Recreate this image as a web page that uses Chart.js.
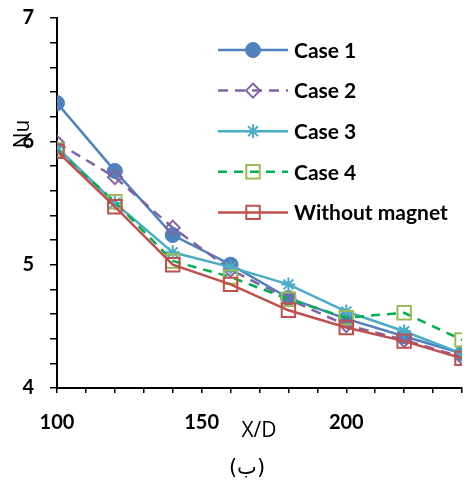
<!DOCTYPE html>
<html lang="fa">
<head>
<meta charset="UTF-8" />
<title>Nu vs X/D</title>
<script src="https://cdn.jsdelivr.net/npm/chart.js"></script>
<style>
body { margin: 0; background: #fff; }
.grafica { width: 464px; height: 481px; }
</style>
</head>
<body>
<div class="grafica">
<canvas id="myChart"></canvas>
</div>
<script>
const xValues = [100, 120, 140, 160, 180, 200, 220, 240];
const case1 = [6.31, 5.76, 5.24, 5.00, 4.73, 4.56, 4.42, 4.28];
const case2 = [5.99, 5.71, 5.30, 4.96, 4.72, 4.51, 4.39, 4.25];
const case3 = [5.95, 5.50, 5.10, 4.98, 4.84, 4.62, 4.46, 4.28];
const case4 = [5.93, 5.51, 5.03, 4.90, 4.72, 4.57, 4.61, 4.39];
const withoutMagnet = [5.92, 5.47, 5.00, 4.84, 4.63, 4.49, 4.38, 4.24];
const seriesNames = ["Case 1", "Case 2", "Case 3", "Case 4", "Without magnet"];
const xLabels = [100, 150, 200];
const yLabels = [4, 5, 6, 7];

function pts(values) {
  return values.map((v, i) => ({ x: xValues[i], y: v }));
}

const datasets = [
  {
    label: seriesNames[0], data: pts(case1), order: 5,
    borderColor: "#4F81BD", borderWidth: 2.5,
    pointStyle: "circle", pointRadius: 7.5,
    pointBackgroundColor: "#4F81BD", pointBorderColor: "#4F81BD", pointBorderWidth: 1
  },
  {
    label: seriesNames[1], data: pts(case2), order: 4,
    borderColor: "#8064A2", borderWidth: 2.5, borderDash: [10, 7],
    pointStyle: "rectRot", pointRadius: 7,
    pointBackgroundColor: "rgba(255,255,255,0)", pointBorderColor: "#8064A2", pointBorderWidth: 2
  },
  {
    label: seriesNames[2], data: pts(case3), order: 3,
    borderColor: "#4BACC6", borderWidth: 2.5,
    pointStyle: "star", pointRadius: 7,
    pointBackgroundColor: "#4BACC6", pointBorderColor: "#4BACC6", pointBorderWidth: 2
  },
  {
    label: seriesNames[3], data: pts(case4), order: 2,
    borderColor: "#00B050", borderWidth: 2.5, borderDash: [9, 7],
    pointStyle: "rect", pointRadius: 9.5,
    pointBackgroundColor: "rgba(255,255,255,0)", pointBorderColor: "#9BBB59", pointBorderWidth: 2
  },
  {
    label: seriesNames[4], data: pts(withoutMagnet), order: 1,
    borderColor: "#C0504D", borderWidth: 2.5,
    pointStyle: "rect", pointRadius: 9.5,
    pointBackgroundColor: "rgba(255,255,255,0)", pointBorderColor: "#C0504D", pointBorderWidth: 2
  }
];

// legend + axis titles + caption drawn by hand
const extras = {
  id: "extras",
  afterDraw(chart) {
    const ctx = chart.ctx;
    ctx.save();
    datasets.forEach((ds, i) => {
      const y = 50 + i * 40.6;
      ctx.strokeStyle = ds.borderColor;
      ctx.lineWidth = ds.borderWidth;
      ctx.setLineDash(ds.borderDash || []);
      ctx.beginPath();
      ctx.moveTo(218, y);
      ctx.lineTo(288, y);
      ctx.stroke();
      ctx.setLineDash([]);
      ctx.fillStyle = ds.pointBackgroundColor;
      ctx.strokeStyle = ds.pointBorderColor;
      ctx.lineWidth = ds.pointBorderWidth;
      Chart.helpers.drawPoint(ctx, { pointStyle: ds.pointStyle, radius: ds.pointRadius, rotation: 0, borderWidth: ds.pointBorderWidth }, 253, y);
      ctx.fillStyle = "#000";
      ctx.font = "bold 21px Lato";
      ctx.textAlign = "left";
      ctx.textBaseline = "middle";
      ctx.fillText(ds.label, 294, y + 1);
    });

    ctx.fillStyle = "#000";
    ctx.font = "21px 'Open Sans'";
    ctx.textAlign = "center";
    ctx.textBaseline = "middle";
    ctx.fillText("X/D", 259, 431);

    ctx.save();
    ctx.translate(23, 134);
    ctx.rotate(-Math.PI / 2);
    ctx.fillText("Nu", 0, 0);
    ctx.restore();

    ctx.font = "21px 'DejaVu Sans'";
    ctx.fillText("(ب)", 247, 469);
    ctx.restore();
  }
};

const config = {
  type: "line",
  data: { datasets },
  options: {
    responsive: true,
    maintainAspectRatio: false,
    animation: false,
    layout: { autoPadding: false, padding: { top: 18, right: 2, left: 0, bottom: 0 } },
    plugins: { legend: { display: false }, tooltip: { enabled: false } },
    scales: {
      x: {
        type: "linear", min: 100, max: 240,
        afterFit: (s) => { s.height = 93; s.paddingLeft = 0; s.paddingRight = 0; },
        border: { color: "#000", width: 2 },
        grid: { drawOnChartArea: false, color: "#000", lineWidth: 1.5, tickLength: 5 },
        ticks: {
          stepSize: 10, autoSkip: false, maxRotation: 0, padding: 18,
          color: "#000", font: { family: "Lato", size: 20, weight: "bold" },
          callback: (v) => xLabels.includes(v) ? String(v) : ""
        }
      },
      y: {
        min: 4, max: 7,
        afterFit: (s) => { s.width = 57; s.paddingTop = 0; s.paddingBottom = 0; },
        border: { color: "#000", width: 2 },
        grid: { drawOnChartArea: false, color: "#000", lineWidth: 1.5, tickLength: 7 },
        ticks: {
          stepSize: 0.2, autoSkip: false, padding: 16,
          color: "#000", font: { family: "Lato", size: 20, weight: "bold" },
          callback: (v) => {
            const r = Math.round(v);
            return Math.abs(v - r) < 1e-6 && yLabels.includes(r) ? String(r) : "";
          }
        }
      }
    }
  },
  plugins: [extras]
};

new Chart(document.getElementById("myChart"), config);
</script>
</body>
</html>
